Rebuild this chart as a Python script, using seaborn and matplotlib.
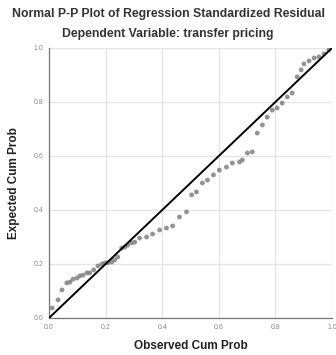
import numpy as np
import pandas as pd
import matplotlib
matplotlib.use("Agg")
import matplotlib.pyplot as plt
import seaborn as sns

# Observed vs expected cumulative probabilities
observed_cum = [0.011, 0.032, 0.046, 0.063, 0.074, 0.085, 0.099, 0.109, 0.120, 0.134,
                0.144, 0.158, 0.173, 0.187, 0.197, 0.208, 0.222, 0.232, 0.243, 0.257,
                0.268, 0.278, 0.292, 0.303, 0.320, 0.345, 0.366, 0.391, 0.415, 0.437,
                0.461, 0.486, 0.504, 0.521, 0.542, 0.560, 0.581, 0.602, 0.627, 0.648,
                0.673, 0.683, 0.701, 0.718, 0.736, 0.754, 0.771, 0.789, 0.806, 0.824,
                0.842, 0.859, 0.877, 0.891, 0.901, 0.919, 0.937, 0.954, 0.972, 0.989]
expected_cum = [0.037, 0.067, 0.104, 0.130, 0.133, 0.144, 0.148, 0.156, 0.159, 0.167,
                0.167, 0.178, 0.193, 0.200, 0.204, 0.204, 0.207, 0.215, 0.226, 0.259,
                0.263, 0.270, 0.278, 0.281, 0.296, 0.300, 0.311, 0.326, 0.333, 0.341,
                0.374, 0.393, 0.456, 0.467, 0.500, 0.511, 0.530, 0.548, 0.559, 0.574,
                0.578, 0.585, 0.611, 0.615, 0.685, 0.715, 0.744, 0.770, 0.778, 0.796,
                0.819, 0.833, 0.893, 0.919, 0.941, 0.952, 0.963, 0.967, 0.978, 0.993]
ref_line = [0.0, 1.0]
tick_vals = [0.0, 0.2, 0.4, 0.6, 0.8, 1.0]

df = pd.DataFrame({"Observed Cum Prob": observed_cum, "Expected Cum Prob": expected_cum})

sns.set_theme(style="white")
plt.rcParams["font.family"] = ["Liberation Sans", "DejaVu Sans"]

fig = plt.figure(figsize=(3.36, 3.55), dpi=100)
ax = fig.add_axes([49 / 336, 37 / 355, 283 / 336, 270 / 355])

sns.scatterplot(data=df, x="Observed Cum Prob", y="Expected Cum Prob", ax=ax,
                s=12, color="#808080", edgecolor="none", alpha=0.85, zorder=3)
sns.lineplot(x=ref_line, y=ref_line, ax=ax, color="black", linewidth=1.4, zorder=4)

ax.set_xlim(0, 1)
ax.set_ylim(0, 1)
ax.set_xticks(tick_vals)
ax.set_yticks(tick_vals)
ax.set_xticklabels([f"{v:.1f}" for v in tick_vals])
ax.set_yticklabels([f"{v:.1f}" for v in tick_vals])
ax.tick_params(axis="both", labelsize=5, colors="#888888", length=2, pad=2)
ax.grid(True, color="#e4e4e4", linewidth=0.9)
ax.set_axisbelow(True)

for side in ["top", "right"]:
    ax.spines[side].set_visible(False)
for side in ["left", "bottom"]:
    ax.spines[side].set_color("#777777")
    ax.spines[side].set_linewidth(0.9)

ax.set_xlabel("Observed Cum Prob", fontsize=8.5, fontweight="bold", color="#222222", labelpad=7)
ax.set_ylabel("Expected Cum Prob", fontsize=8.5, fontweight="bold", color="#222222", labelpad=10)

fig.text(0.5, 1 - 14 / 355, "Normal P-P Plot of Regression Standardized Residual",
         ha="center", va="center", fontsize=8.8, fontweight="bold", color="#333333")
fig.text(0.5, 1 - 34 / 355, "Dependent Variable: transfer pricing",
         ha="center", va="center", fontsize=8.8, fontweight="bold", color="#333333")

fig.savefig("out.png", dpi=100)
